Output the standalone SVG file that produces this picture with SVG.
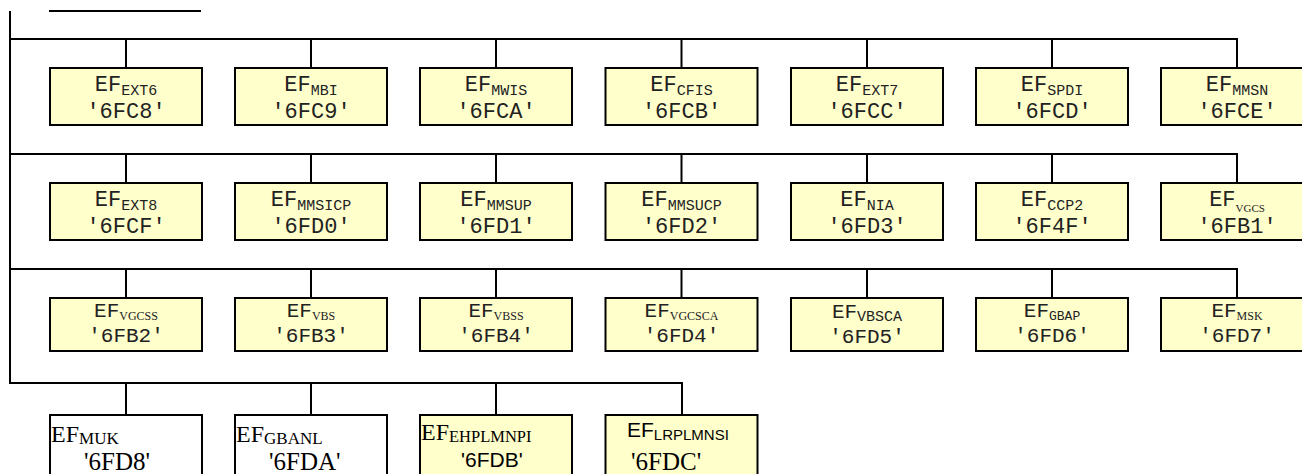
<svg xmlns="http://www.w3.org/2000/svg" width="1302" height="474" viewBox="0 0 1302 474">
<style>
.ln{stroke:#000;stroke-width:2;fill:none}
.bx{fill:#FFFFCC;stroke:#000;stroke-width:2}
.bw{fill:#FFFFFF;stroke:#000;stroke-width:2}
.m{font-family:"Liberation Mono","Courier New",monospace;fill:#222;text-anchor:middle}
.m1{font-size:22px}
.m3{font-size:21px}
.sm{font-family:"Liberation Mono","Courier New",monospace;font-size:15px}
.sm2{font-family:"Liberation Mono","Courier New",monospace;font-size:13px}
.st{font-family:"Liberation Serif","Times New Roman",serif;font-size:12px}
.st2{font-family:"Liberation Serif","Times New Roman",serif;font-size:11px}
.t{font-family:"Liberation Serif","Times New Roman",serif;fill:#000}
.a{font-family:"Liberation Sans",Arial,sans-serif;fill:#000}
</style>
<g id="connectors">
<line class="ln" x1="49" y1="11" x2="201" y2="11"/>
<line class="ln" x1="10" y1="11" x2="10" y2="384"/>
<polyline class="ln" points="9,39 1237,39 1237,68"/>
<line class="ln" x1="126" y1="39" x2="126" y2="68"/>
<line class="ln" x1="311" y1="39" x2="311" y2="68"/>
<line class="ln" x1="496" y1="39" x2="496" y2="68"/>
<line class="ln" x1="681.5" y1="39" x2="681.5" y2="68"/>
<line class="ln" x1="867" y1="39" x2="867" y2="68"/>
<line class="ln" x1="1052" y1="39" x2="1052" y2="68"/>
<polyline class="ln" points="9,154 1237,154 1237,183"/>
<line class="ln" x1="126" y1="154" x2="126" y2="183"/>
<line class="ln" x1="311" y1="154" x2="311" y2="183"/>
<line class="ln" x1="496" y1="154" x2="496" y2="183"/>
<line class="ln" x1="681.5" y1="154" x2="681.5" y2="183"/>
<line class="ln" x1="867" y1="154" x2="867" y2="183"/>
<line class="ln" x1="1052" y1="154" x2="1052" y2="183"/>
<polyline class="ln" points="9,269 1237,269 1237,298"/>
<line class="ln" x1="126" y1="269" x2="126" y2="298"/>
<line class="ln" x1="311" y1="269" x2="311" y2="298"/>
<line class="ln" x1="496" y1="269" x2="496" y2="298"/>
<line class="ln" x1="681.5" y1="269" x2="681.5" y2="298"/>
<line class="ln" x1="867" y1="269" x2="867" y2="298"/>
<line class="ln" x1="1052" y1="269" x2="1052" y2="298"/>
<polyline class="ln" points="9,383 682,383 682,415"/>
<line class="ln" x1="126" y1="383" x2="126" y2="415"/>
<line class="ln" x1="311" y1="383" x2="311" y2="415"/>
<line class="ln" x1="496" y1="383" x2="496" y2="415"/>
</g>

<g id="n-6FC8"><rect class="bx" x="50" y="68" width="152" height="57"/><text class="m m1" x="126" y="91">EF<tspan class="sm" dy="4">EXT6</tspan></text><text class="m m1" x="126" y="118">'6FC8'</text></g>
<g id="n-6FC9"><rect class="bx" x="235" y="68" width="152" height="57"/><text class="m m1" x="311" y="91">EF<tspan class="sm" dy="4">MBI</tspan></text><text class="m m1" x="311" y="118">'6FC9'</text></g>
<g id="n-6FCA"><rect class="bx" x="420" y="68" width="152" height="57"/><text class="m m1" x="496" y="91">EF<tspan class="sm" dy="4">MWIS</tspan></text><text class="m m1" x="496" y="118">'6FCA'</text></g>
<g id="n-6FCB"><rect class="bx" x="605.5" y="68" width="152" height="57"/><text class="m m1" x="681.5" y="91">EF<tspan class="sm" dy="4">CFIS</tspan></text><text class="m m1" x="681.5" y="118">'6FCB'</text></g>
<g id="n-6FCC"><rect class="bx" x="791" y="68" width="152" height="57"/><text class="m m1" x="867" y="91">EF<tspan class="sm" dy="4">EXT7</tspan></text><text class="m m1" x="867" y="118">'6FCC'</text></g>
<g id="n-6FCD"><rect class="bx" x="976" y="68" width="152" height="57"/><text class="m m1" x="1052" y="91">EF<tspan class="sm" dy="4">SPDI</tspan></text><text class="m m1" x="1052" y="118">'6FCD'</text></g>
<g id="n-6FCE"><rect class="bx" x="1161" y="68" width="152" height="57"/><text class="m m1" x="1237" y="91">EF<tspan class="sm" dy="4">MMSN</tspan></text><text class="m m1" x="1237" y="118">'6FCE'</text></g>

<g id="n-6FCF"><rect class="bx" x="50" y="183" width="152" height="57"/><text class="m m1" x="126" y="206">EF<tspan class="sm" dy="4">EXT8</tspan></text><text class="m m1" x="126" y="233">'6FCF'</text></g>
<g id="n-6FD0"><rect class="bx" x="235" y="183" width="152" height="57"/><text class="m m1" x="311" y="206">EF<tspan class="sm" dy="4">MMSICP</tspan></text><text class="m m1" x="311" y="233">'6FD0'</text></g>
<g id="n-6FD1"><rect class="bx" x="420" y="183" width="152" height="57"/><text class="m m1" x="496" y="206">EF<tspan class="sm" dy="4">MMSUP</tspan></text><text class="m m1" x="496" y="233">'6FD1'</text></g>
<g id="n-6FD2"><rect class="bx" x="605.5" y="183" width="152" height="57"/><text class="m m1" x="681.5" y="206">EF<tspan class="sm" dy="4">MMSUCP</tspan></text><text class="m m1" x="681.5" y="233">'6FD2'</text></g>
<g id="n-6FD3"><rect class="bx" x="791" y="183" width="152" height="57"/><text class="m m1" x="867" y="206">EF<tspan class="sm" dy="4">NIA</tspan></text><text class="m m1" x="867" y="233">'6FD3'</text></g>
<g id="n-6F4F"><rect class="bx" x="976" y="183" width="152" height="57"/><text class="m m1" x="1052" y="206">EF<tspan class="sm" dy="4">CCP2</tspan></text><text class="m m1" x="1052" y="233">'6F4F'</text></g>
<g id="n-6FB1"><rect class="bx" x="1161" y="183" width="152" height="57"/><text class="m m1" x="1237" y="206">EF<tspan class="st2" dy="6">VGCS</tspan></text><text class="m m1" x="1237" y="233">'6FB1'</text></g>

<g id="n-6FB2"><rect class="bx" x="50" y="298" width="152" height="53"/><text class="m m3" x="126" y="317">EF<tspan class="st" dy="3">VGCSS</tspan></text><text class="m m3" x="126" y="342">'6FB2'</text></g>
<g id="n-6FB3"><rect class="bx" x="235" y="298" width="152" height="53"/><text class="m m3" x="311" y="317">EF<tspan class="st" dy="3">VBS</tspan></text><text class="m m3" x="311" y="342">'6FB3'</text></g>
<g id="n-6FB4"><rect class="bx" x="420" y="298" width="152" height="53"/><text class="m m3" x="496" y="317">EF<tspan class="st" dy="3">VBSS</tspan></text><text class="m m3" x="496" y="342">'6FB4'</text></g>
<g id="n-6FD4"><rect class="bx" x="605.5" y="298" width="152" height="53"/><text class="m m3" x="681.5" y="317">EF<tspan class="st" dy="3">VGCSCA</tspan></text><text class="m m3" x="681.5" y="342">'6FD4'</text></g>
<g id="n-6FD5"><rect class="bx" x="791" y="298" width="152" height="53"/><text class="m m3" x="867" y="318">EF<tspan class="sm" dy="3">VBSCA</tspan></text><text class="m m3" x="867" y="343">'6FD5'</text></g>
<g id="n-6FD6"><rect class="bx" x="976" y="298" width="152" height="53"/><text class="m m3" x="1052" y="317">EF<tspan class="sm2" dy="3">GBAP</tspan></text><text class="m m3" x="1052" y="342">'6FD6'</text></g>
<g id="n-6FD7"><rect class="bx" x="1161" y="298" width="152" height="53"/><text class="m m3" x="1237" y="317">EF<tspan class="st" dy="3">MSK</tspan></text><text class="m m3" x="1237" y="342">'6FD7'</text></g>

<g id="n-6FD8"><rect class="bw" x="50" y="415" width="152" height="70"/><text class="t" x="51" y="442" font-size="24">EF<tspan font-size="17" dy="2">MUK</tspan></text><text class="t" x="84" y="470" font-size="25">'6FD8'</text></g>
<g id="n-6FDA"><rect class="bw" x="235" y="415" width="152" height="70"/><text class="t" x="236" y="442" font-size="24">EF<tspan font-size="17" dy="2">GBANL</tspan></text><text class="t" x="269" y="470" font-size="25">'6FDA'</text></g>
<g id="n-6FDB"><rect class="bx" x="420" y="415" width="152" height="70"/><text class="t" x="421" y="440" font-size="24">EF<tspan font-size="16.5" dy="2">EHPLMNPI</tspan></text><text class="a" x="461" y="467" font-size="21">'6FDB'</text></g>
<g id="n-6FDC"><rect class="bx" x="605.5" y="415" width="152" height="70"/><text class="a" x="627" y="437" font-size="21">EF<tspan font-size="15" dy="3">LRPLMNSI</tspan></text><text class="t" x="631" y="470" font-size="25">'6FDC'</text></g>
</svg>
